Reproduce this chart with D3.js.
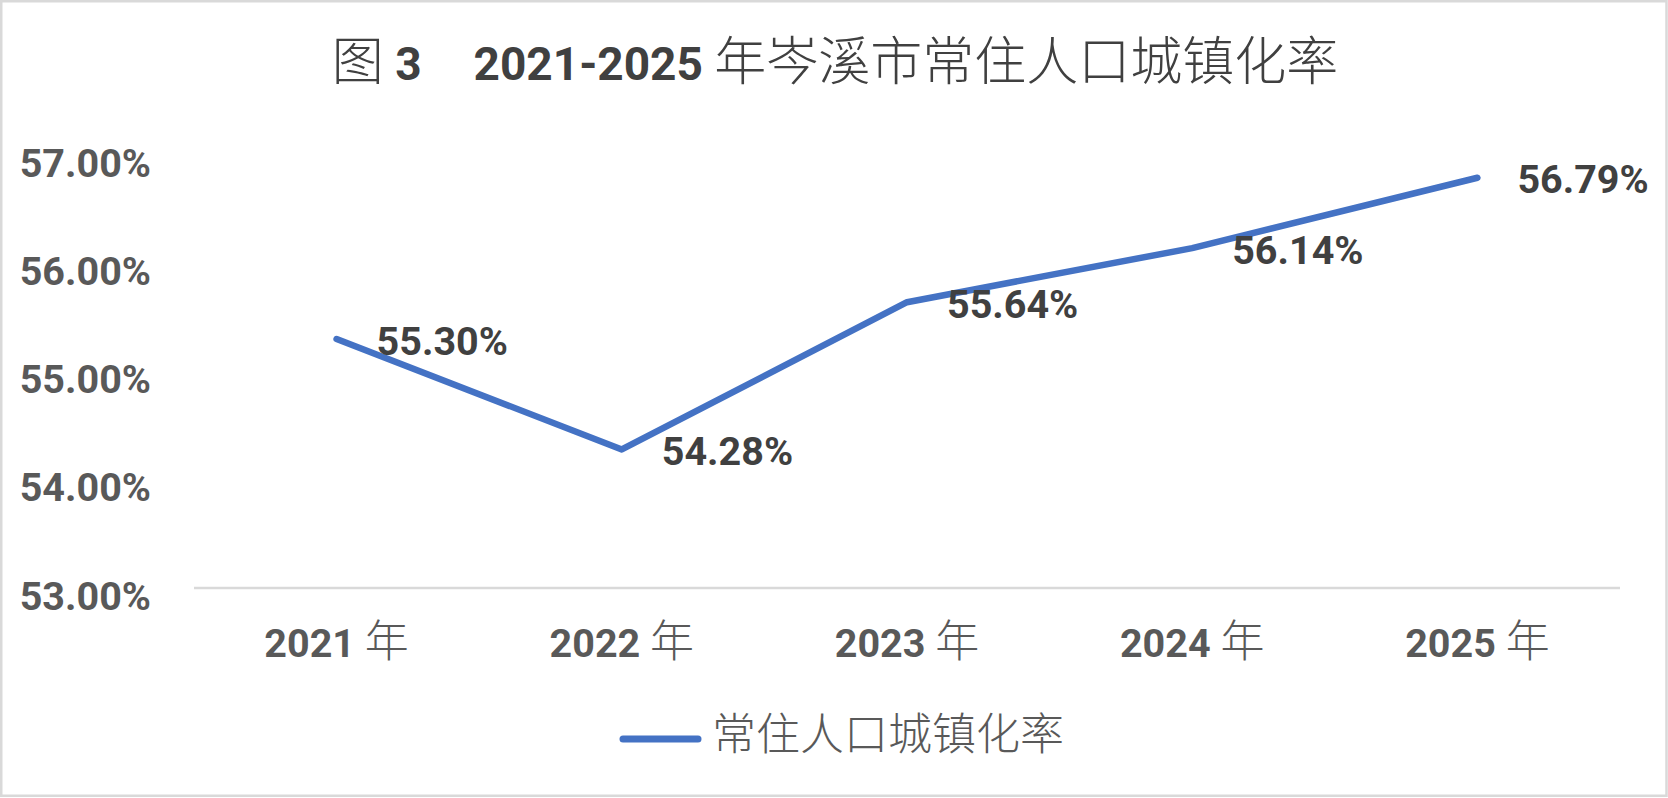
<!DOCTYPE html>
<html>
<head>
<meta charset="utf-8">
<script src="https://cdn.jsdelivr.net/npm/d3@7"></script>
<style>
  html, body { margin: 0; padding: 0; background: #fff; }
  svg { display: block; }
</style>
</head>
<body>
<script>
// Chart data
const years = ["2021 年", "2022 年", "2023 年", "2024 年", "2025 年"];
const rates = [55.30, 54.28, 55.64, 56.14, 56.79];
const yTicks = [53, 54, 55, 56, 57];
const seriesName = "常住人口城镇化率";
const title = "图 3\u30002021-2025 年岑溪市常住人口城镇化率";

const width = 1668,
    height = 798;

// Plot area, in page pixels
const plot = { left: 194, right: 1620, top: 155, bottom: 588 };

const LATIN = "Roboto, 'DejaVu Sans', sans-serif",
    CJK = "'Noto Sans CJK SC', 'Noto Sans CJK JP', sans-serif",
    BLUE = "#4472c4";

const svg = d3.select("body").append("svg")
    .attr("width", width)
    .attr("height", height);

svg.append("rect")
    .attr("x", 1.25).attr("y", 1.25)
    .attr("width", width - 2.75).attr("height", height - 3.5)
    .attr("fill", "#fff")
    .attr("stroke", "#d9d9d9")
    .attr("stroke-width", 2.5);

// Writes a string into a text node, latin runs bold, CJK runs light
function richText(text, str, latinSize, cjkSize) {
    const parts = str.match(/[\u3000-\u9fff]+|[^\u3000-\u9fff]+/g);
    parts.forEach(p => {
        const isCjk = /[\u3000-\u9fff]/.test(p);
        text.append("tspan")
            .attr("font-family", isCjk ? CJK : LATIN)
            .attr("font-weight", isCjk ? 300 : 700)
            .attr("font-size", isCjk ? cjkSize : latinSize)
            .attr("xml:space", "preserve")
            .text(p);
    });
}

const x = d3.scaleBand()
    .domain(years)
    .range([plot.left, plot.right]);

const y = d3.scaleLinear()
    .domain([53, 57])
    .range([plot.bottom, plot.top]);

// Title
const t = svg.append("text")
    .attr("x", 835).attr("y", 80)
    .attr("text-anchor", "middle")
    .attr("fill", "#404040")
    .style("white-space", "pre");
richText(t, title, 46, 52);

// Horizontal axis line (only the base gridline is shown)
svg.append("line")
    .attr("x1", plot.left).attr("x2", plot.right)
    .attr("y1", y(53)).attr("y2", y(53))
    .attr("stroke", "#d9d9d9")
    .attr("stroke-width", 2.5);

// Y axis labels
const yAxis = d3.axisLeft(y)
    .tickValues(yTicks)
    .tickFormat(d => d.toFixed(2) + "%")
    .tickSize(0)
    .tickPadding(0);

const gy = svg.append("g")
    .attr("transform", `translate(151,0)`)
    .call(yAxis);
gy.select(".domain").remove();
gy.selectAll("text")
    .attr("dy", null)
    .attr("y", 21)
    .attr("fill", "#595959")
    .attr("font-family", LATIN)
    .attr("font-weight", 700)
    .attr("font-size", 39.5);

// X axis labels
const gx = svg.append("g");
years.forEach(d => {
    const lbl = gx.append("text")
        .attr("x", x(d) + x.bandwidth() / 2)
        .attr("y", 657)
        .attr("text-anchor", "middle")
        .attr("fill", "#595959")
        .style("white-space", "pre");
    richText(lbl, d, 39.5, 44);
});

// Line
const points = years.map((d, i) => [x(d) + x.bandwidth() / 2, y(rates[i])]);

svg.append("path")
    .attr("d", d3.line()(points))
    .attr("fill", "none")
    .attr("stroke", BLUE)
    .attr("stroke-width", 6.5)
    .attr("stroke-linecap", "round")
    .attr("stroke-linejoin", "round");

// Data labels, placed right of each point
svg.append("g").selectAll("text")
    .data(points)
    .join("text")
    .attr("x", d => d[0] + 40)
    .attr("y", d => d[1] + 15.5)
    .attr("fill", "#404040")
    .attr("font-family", LATIN)
    .attr("font-weight", 700)
    .attr("font-size", 39.5)
    .text((d, i) => rates[i].toFixed(2) + "%");

// Legend
const legend = svg.append("g");
legend.append("line")
    .attr("x1", 623).attr("x2", 698)
    .attr("y1", 739).attr("y2", 739)
    .attr("stroke", BLUE)
    .attr("stroke-width", 7)
    .attr("stroke-linecap", "round");
legend.append("text")
    .attr("x", 712).attr("y", 750)
    .attr("fill", "#595959")
    .attr("font-family", CJK)
    .attr("font-weight", 300)
    .attr("font-size", 44)
    .text(seriesName);
</script>
</body>
</html>
